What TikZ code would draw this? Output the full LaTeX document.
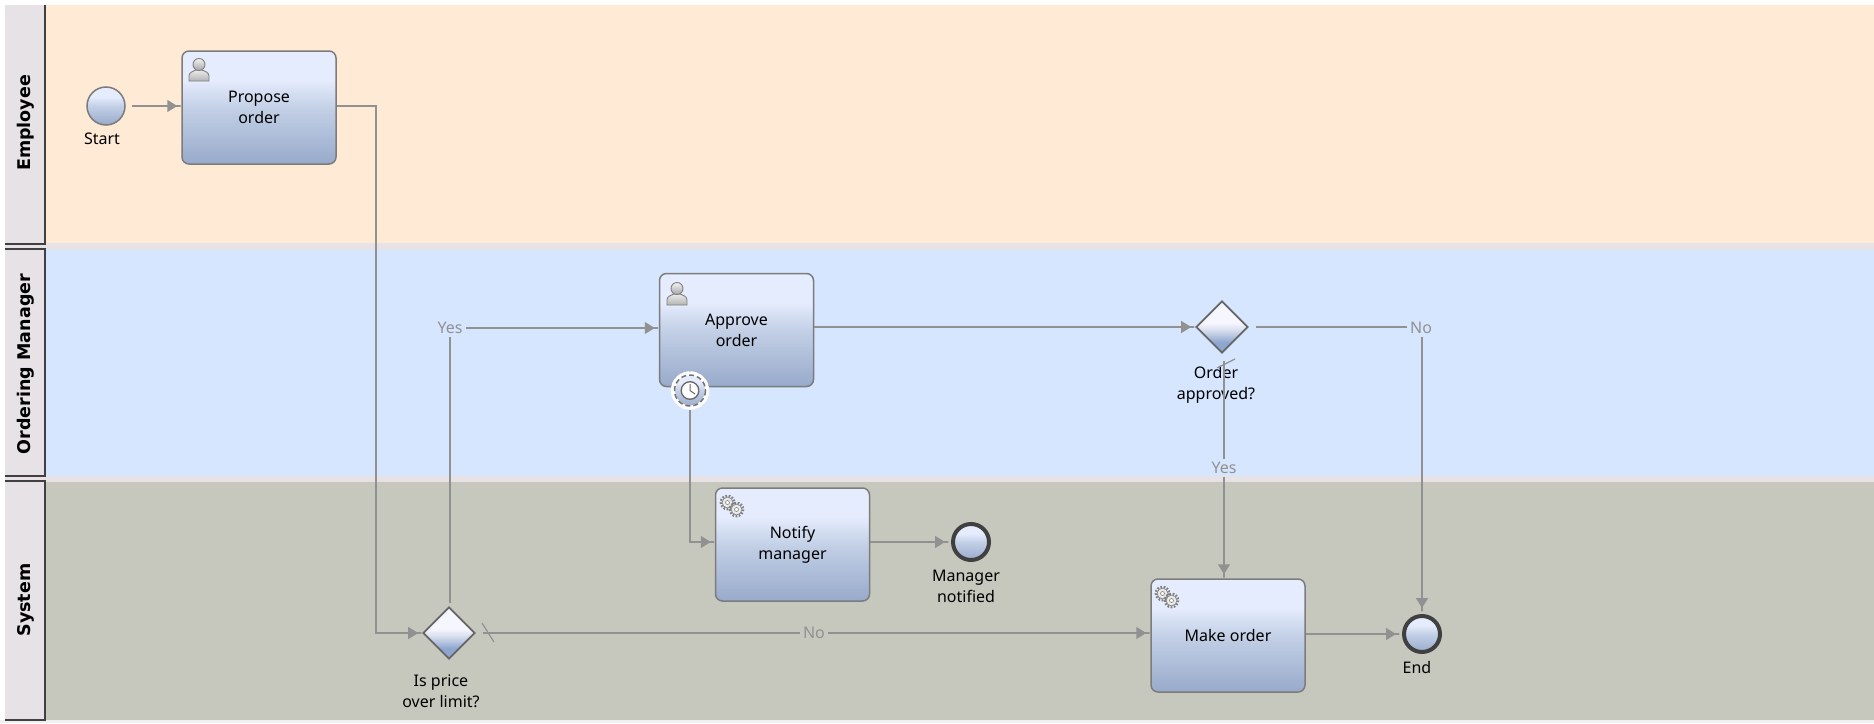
\documentclass[tikz,border=0pt]{standalone}
\usepackage{fontspec}
\setmainfont{Noto Sans}
\newfontfamily\lanefont{DejaVu Sans}
\usetikzlibrary{positioning}
\usetikzlibrary{shapes.geometric, arrows.meta}

\definecolor{linegray}{HTML}{919191}
\definecolor{edgegray}{HTML}{7C7C7C}
\definecolor{laneorange}{HTML}{FFEAD6}
\definecolor{laneblue}{HTML}{D6E6FF}
\definecolor{lanegreen}{HTML}{C7C8BD}
\definecolor{lanehead}{HTML}{E6E2E6}
\definecolor{shadetop}{HTML}{E5ECFD}
\definecolor{shademid}{HTML}{C3D0E6}
\definecolor{shadebot}{HTML}{98AACB}
\definecolor{gatetop}{HTML}{F6F6FF}
\definecolor{gatemid}{HTML}{DDE3F0}
\definecolor{gatebot}{HTML}{8EA6CF}
\pgfdeclareverticalshading{taskshade}{100bp}{color(0bp)=(shadebot); color(25bp)=(shadebot); color(50bp)=(shademid); color(62bp)=(shadetop); color(100bp)=(shadetop)}
\pgfdeclareverticalshading{gateshade}{100bp}{color(0bp)=(gatebot); color(35bp)=(gatebot); color(48bp)=(gatemid); color(54bp)=(gatetop); color(100bp)=(gatetop)}

\begin{document}
\begin{tikzpicture}[x=1pt,y=-1pt]
    \tikzset{base/.style = {font={\fontsize{16}{21}\selectfont}, align=center, inner sep=0pt}}
    \tikzset{task/.style = {base, rectangle, rounded corners=7pt, draw=edgegray, line width=1.5pt,
                           shade, shading=taskshade,
                           minimum width=154pt, minimum height=113pt}}
    \tikzset{gateway/.style = {diamond, aspect=1, draw=black!60, line width=1.7pt, inner sep=0pt,
                           shade, shading=gateshade, minimum size=52pt}}
    \tikzset{startevent/.style = {circle, draw=edgegray, line width=1.5pt, inner sep=0pt,
                           shade, shading=taskshade, minimum size=38pt}}
    \tikzset{endevent/.style = {startevent, draw=black!75, line width=4pt, minimum size=36pt}}
    \tikzset{timerevent/.style = {startevent, draw=white, line width=4pt, minimum size=34pt}}
    \tikzset{caption/.style = {base, text=black}}
    \tikzset{flowlabel/.style = {base, text=linegray, inner sep=3pt}}
    \tikzset{lanelabel/.style = {base, font={\fontsize{17.5}{20}\lanefont\bfseries\selectfont}, rotate=90}}
    \tikzset{laneedge/.style = {draw=black!75, line width=1.5pt}}
    \tikzset{line/.style = {draw=linegray, line width=1.5pt}}
    \tikzset{flow/.style = {line, -{Triangle[length=10pt,width=12pt]Rectangle[length=4pt,width=1.5pt]}}}
    \tikzset{usericon/.pic = {
        \draw[draw=black!50, line width=0.9pt, top color=black!8, bottom color=black!30]
            (-10,10) -- (-10,5) .. controls (-10,1) and (-5,0) .. (-3,-1)
            -- (3,-1) .. controls (5,0) and (10,1) .. (10,5) -- (10,10) -- cycle;
        \draw[draw=black!50, line width=0.9pt, top color=black!5, bottom color=black!35] (0,-6.5) circle (6);
    }}
    \tikzset{gearicon/.pic = {
        \foreach \gx/\gy in {-4.5/-3.5, 4.5/3.5} {
            \draw[draw=black!50, line width=2.5pt, dash pattern=on 1.6pt off 1.6pt] (\gx,\gy) circle (6.6);
            \draw[draw=black!45, fill=black!8, line width=0.8pt] (\gx,\gy) circle (5.4);
            \draw[draw=black!45, fill=white, line width=0.7pt] (\gx,\gy) circle (2);
        }
    }}

    \useasboundingbox (0,0) rectangle (1874,723);

    % lanes
    \fill[white] (0,0) rectangle (1874,723);
    \fill[lanehead] (5,5) rectangle (1874,720);
    \fill[laneorange] (46,5) rectangle (1874,243);
    \fill[laneblue] (46,250) rectangle (1874,476);
    \fill[lanegreen] (46,482) rectangle (1874,720);
    \fill[black!6] (0,720) rectangle (1874,723);

    \draw[laneedge] (5,244) -| (45,5);
    \draw[laneedge] (5,249) -| (45,476) -- (5,476);
    \draw[laneedge] (5,481) -| (45,720) -- (5,720);

    \node (employee) [lanelabel] at (26,123) {Employee};
    \node (manager) [lanelabel] at (26,364) {Ordering Manager};
    \node (system) [lanelabel] at (26,600) {System};

    % tasks and events
    \node (start) [startevent] at (106,106) {};
    \node (propose) [task] at (259,107.5) {Propose\\order};
    \node (approve) [task] at (736.5,330) {Approve\\order};
    \node (notify) [task] at (792.5,544.5) {Notify\\manager};
    \node (makeorder) [task] at (1228,635.5) {Make order};
    \node (timer) [timerevent] at (690,390.5) {};
    \node (notified) [endevent] at (971,542) {};
    \node (finish) [endevent] at (1422,634) {};
    \node (priceGate) [gateway] at (449,633) {};
    \node (orderGate) [gateway] at (1222,327) {};

    % icons
    \pic at (199,71) {usericon};
    \pic at (677,295) {usericon};
    \pic at (732,506) {gearicon};
    \pic at (1167,597) {gearicon};

    % timer details
    \draw[draw=white, line width=1.5pt, dash pattern=on 6pt off 2pt] (timer) circle (18.5);
    \draw[draw=black!55, line width=1.5pt, dash pattern=on 5pt off 3pt] (timer) circle (15.5);
    \draw[draw=black!60, fill=white, line width=1.3pt] (timer) circle (8.8);
    \draw[draw=black!60, line width=1pt] (690,384) -- (timer.center) -- (695,394);

    % captions
    \node (startText) [caption] at (102,139) {Start};
    \node (priceText) [caption] at (441,691) {Is price\\over limit?};
    \node (orderText) [caption] at (1216,385) {Order\\approved?};
    \node (notifiedText) [caption] at (966,586) {Manager\\notified};
    \node (finishText) [caption] at (1417,667) {End};

    \node (yesPrice) [flowlabel] at (450,328) {Yes};
    \node (noPrice) [flowlabel] at (814,633) {No};
    \node (noOrder) [flowlabel] at (1421,328) {No};
    \node (yesOrder) [flowlabel] at (1224,468) {Yes};

    % connectors
    \draw[flow, shorten <=6pt] (start) -- (start -| propose.west);
    \draw[flow] (propose.east |- start) -| (376,633) -- (priceGate.west);
    \draw[line, shorten <=3pt] (priceGate.north -| yesPrice) -- (yesPrice.south);
    \draw[flow] (yesPrice.east) -- (yesPrice.east -| approve.west);
    \draw[flow] (approve.east |- orderGate) -- (orderGate.west);
    \draw[line, shorten <=7pt] (orderGate.east) -- (noOrder.west |- orderGate);
    \draw[flow] (noOrder.south -| finish) -- ([yshift=2pt]finish.north);
    \draw[line, shorten <=7pt] (orderGate.south -| yesOrder) -- (yesOrder.north);
    \draw[flow] (yesOrder.south) -- (yesOrder.south |- makeorder.north);
    \draw[line, shorten <=7pt] (priceGate.east) -- (noPrice.west);
    \draw[flow] (noPrice.east) -- (noPrice.east -| makeorder.west);
    \draw[flow] (makeorder.east |- finish) -- ([xshift=-2pt]finish.west);
    \draw[flow] (timer.south) |- (notify.west |- notified);
    \draw[flow] (notify.east |- notified) -- ([xshift=-2pt]notified.west);

    % default flow ticks
    \coordinate (tickA) at (482,623);
    \coordinate (tickB) at (494,642);
    \coordinate (tickC) at (1217,368);
    \coordinate (tickD) at (1235,359);
    \draw[line, line width=1.2pt] (tickA) -- (tickB);
    \draw[line, line width=1.2pt] (tickC) -- (tickD);

\end{tikzpicture}
\end{document}
